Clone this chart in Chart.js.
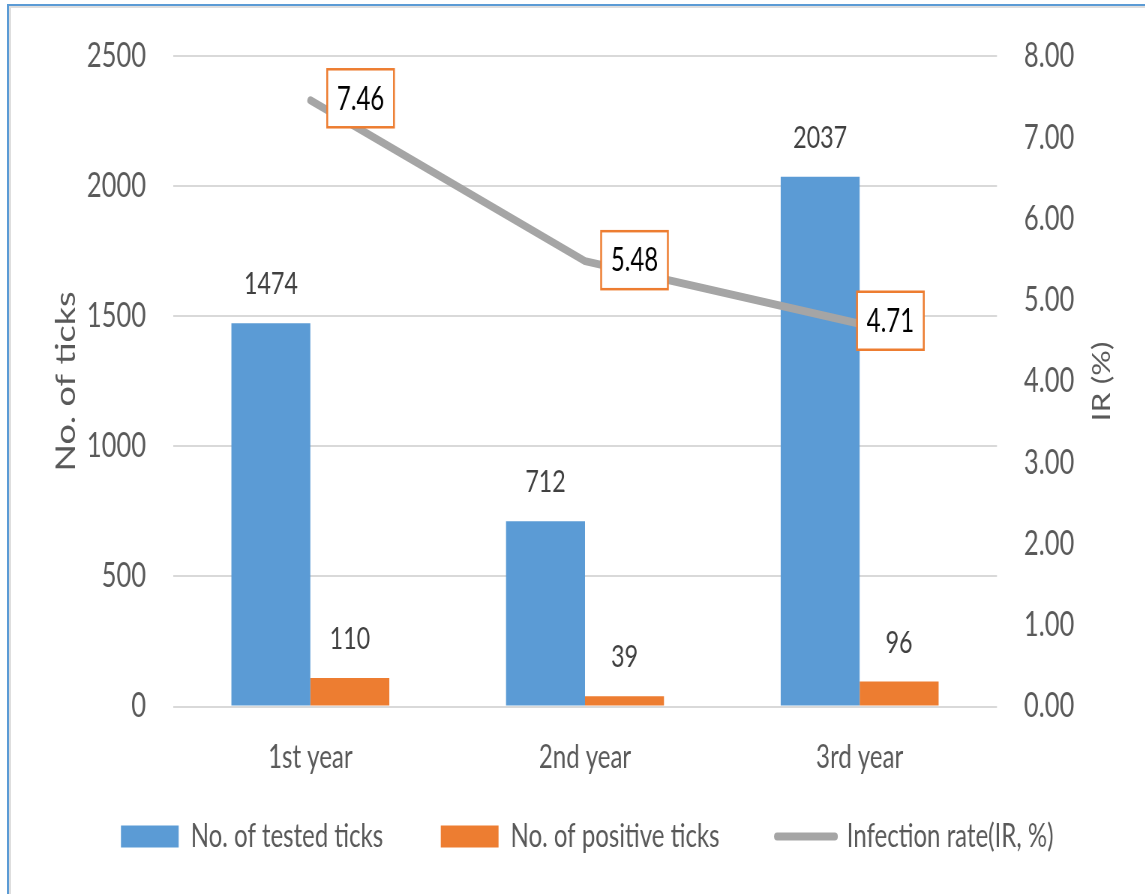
<!DOCTYPE html>
<html>
<head>
<meta charset="utf-8">
<title>Ticks tested per year</title>
<script src="https://cdn.jsdelivr.net/npm/chart.js@4.4.1/dist/chart.umd.min.js"></script>
<style>
  html, body { margin: 0; padding: 0; background: #fff; overflow: hidden; width: 1145px; height: 894px; }
  .frame-outer { position: absolute; left: 7px; top: 4px; width: 1200px; height: 950px; border: 2px solid #5b9bd5; }
  .frame-inner { position: absolute; left: 9px; top: 6px; width: 1200px; height: 950px; border: 2px solid #dedede; }
  /* the original picture is squeezed sideways, so draw wide and squeeze */
  #wrap { position: absolute; left: 0; top: 0; width: 1527px; height: 894px; transform: scaleX(0.75); transform-origin: 0 0; }
</style>
</head>
<body>
<div class="frame-outer"></div>
<div class="frame-inner"></div>
<div id="wrap"><canvas id="chart"></canvas></div>
<script>
const years = ["1st year", "2nd year", "3rd year"];
const testedTicks = [1474, 712, 2037];
const positiveTicks = [110, 39, 96];
const infectionRate = [7.46, 5.48, 4.71];
const seriesNames = ["No. of tested ticks", "No. of positive ticks", "Infection rate(IR, %)"];

const FONT = 'Lato, "Liberation Sans", sans-serif';
const TEXT_GREY = "#595959";
const BLUE = "#5b9bd5", ORANGE = "#ed7d31", GREY = "#a5a5a5";

Chart.defaults.font.family = FONT;

// value labels over bars, boxed IR labels, and right axis title
const valueLabels = {
    id: "valueLabels",
    afterDatasetsDraw(chart) {
        const ctx = chart.ctx;
        ctx.save();
        ctx.textAlign = "center";
        ctx.textBaseline = "middle";

        ctx.font = "31px " + FONT;
        ctx.fillStyle = "#404040";
        [0, 1].forEach(i => {
            chart.getDatasetMeta(i).data.forEach((bar, j) => {
                ctx.fillText(chart.data.datasets[i].data[j], bar.x, bar.y - 39);
            });
        });

        const dx = [67, 66, 41], dy = [-2, -1, -3];
        const w = 89, h = 58;
        ctx.font = "32px " + FONT;
        chart.getDatasetMeta(2).data.forEach((pt, j) => {
            const cx = pt.x + dx[j], cy = pt.y + dy[j];
            ctx.fillStyle = "#fff";
            ctx.fillRect(cx - w / 2, cy - h / 2, w, h);
            ctx.strokeStyle = ORANGE;
            ctx.lineWidth = 2.5;
            ctx.strokeRect(cx - w / 2, cy - h / 2, w, h);
            ctx.fillStyle = "#000";
            ctx.fillText(infectionRate[j].toFixed(2), cx, cy + 1);
        });
        ctx.restore();
    },
    afterDraw(chart) {
        // Chart.js turns right titles the other way, so draw this one here
        const ctx = chart.ctx;
        const area = chart.chartArea;
        ctx.save();
        ctx.translate(chart.scales.y1.right - 29, (area.top + area.bottom) / 2);
        ctx.rotate(-Math.PI / 2);
        ctx.textAlign = "center";
        ctx.textBaseline = "middle";
        ctx.font = "32px " + FONT;
        ctx.fillStyle = TEXT_GREY;
        ctx.fillText("IR (%)", 0, 0);
        ctx.restore();
    }
};

const ctx = document.getElementById("chart").getContext("2d");
new Chart(ctx, {
    data: {
        labels: years,
        datasets: [
            {
                type: "bar",
                label: seriesNames[0],
                data: testedTicks,
                backgroundColor: BLUE,
                borderWidth: 0,
                yAxisID: "y",
                categoryPercentage: 0.575,
                barPercentage: 1,
                order: 1
            },
            {
                type: "bar",
                label: seriesNames[1],
                data: positiveTicks,
                backgroundColor: ORANGE,
                borderWidth: 0,
                yAxisID: "y",
                categoryPercentage: 0.575,
                barPercentage: 1,
                order: 1
            },
            {
                type: "line",
                label: seriesNames[2],
                data: infectionRate,
                borderColor: GREY,
                backgroundColor: GREY,
                borderWidth: 8,
                borderCapStyle: "round",
                borderJoinStyle: "round",
                pointRadius: 0,
                tension: 0,
                yAxisID: "y1",
                order: 0
            }
        ]
    },
    options: {
        responsive: true,
        maintainAspectRatio: false,
        animation: false,
        layout: {
            padding: { top: 53, left: 67, right: 28, bottom: 31.5 }
        },
        scales: {
            x: {
                grid: { display: false, drawTicks: false },
                border: { display: false },
                ticks: { color: TEXT_GREY, font: { size: 32 }, padding: 32, maxRotation: 0 },
                afterFit: s => { s.height = 70; }
            },
            y: {
                position: "left",
                min: 0,
                max: 2500,
                ticks: {
                    stepSize: 500,
                    color: TEXT_GREY,
                    font: { size: 34 },
                    padding: 36,
                    callback: v => String(v)
                },
                grid: { color: "#d9d9d9", lineWidth: 2, drawTicks: false },
                border: { display: false },
                title: {
                    display: true,
                    text: "No. of ticks",
                    color: TEXT_GREY,
                    font: { size: 36 },
                    padding: { top: 0, bottom: 0 }
                },
                afterFit: s => { s.width = 163.7; }
            },
            y1: {
                position: "right",
                min: 0,
                max: 8,
                ticks: {
                    stepSize: 1,
                    color: TEXT_GREY,
                    font: { size: 34 },
                    padding: 36,
                    callback: v => v.toFixed(2)
                },
                grid: { display: false, drawTicks: false },
                border: { display: false },
                afterFit: s => { s.width = 169.7; }
            }
        },
        plugins: {
            tooltip: { enabled: false },
            legend: {
                position: "bottom",
                labels: {
                    usePointStyle: true,
                    pointStyleWidth: 77,
                    boxHeight: 22,
                    padding: 44,
                    color: TEXT_GREY,
                    font: { size: 32 },
                    sort: (a, b) => a.datasetIndex - b.datasetIndex,
                    generateLabels(chart) {
                        const items = Chart.defaults.plugins.legend.labels.generateLabels(chart);
                        items.forEach(it => {
                            if (it.datasetIndex === 2) {
                                it.pointStyle = "line";
                                it.lineWidth = 8;
                                it.strokeStyle = GREY;
                                it.lineCap = "round";
                            } else {
                                it.pointStyle = "rect";
                                it.lineWidth = 0;
                                // wider gap to the next entry, as in the original
                                it.text = it.text + "    ";
                            }
                        });
                        return items;
                    }
                }
            }
        }
    },
    plugins: [valueLabels]
});
</script>
</body>
</html>
